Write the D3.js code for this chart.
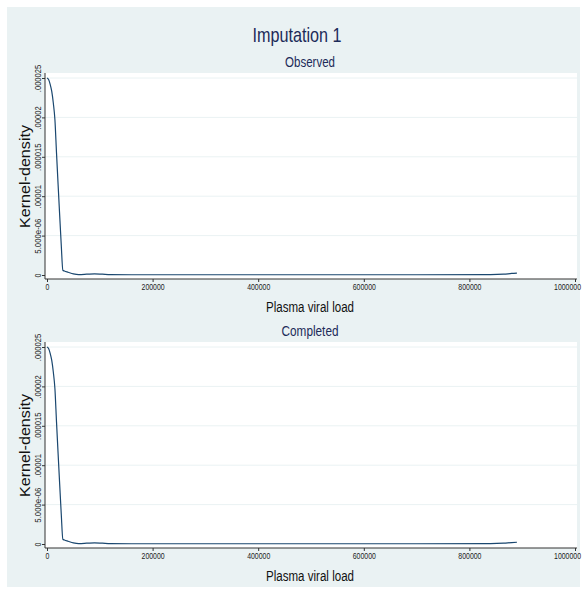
<!DOCTYPE html>
<html>
<head>
<meta charset="utf-8">
<script src="https://cdn.jsdelivr.net/npm/d3@7"></script>
<style>
  body { margin: 0; background: #fff; }
  svg text { font-family: "Liberation Sans", Arial, sans-serif; }
</style>
</head>
<body>
<svg id="chart"></svg>
<script>
// Kernel density of plasma viral load, imputation 1
const densityX = [0, 3000, 6000, 9000, 12000, 15000, 18000, 21000, 24000, 27000, 30000, 33000,
  40000, 50000, 60000, 75000, 90000, 105000, 120000, 160000, 300000, 500000, 700000,
  840000, 865000, 880000, 890000];
const observedY = [25, 24.8, 24.2, 23.3, 21.8, 19.7, 15.5, 11.5, 7.6, 3.8, 0.6, 0.5,
  0.35, 0.15, 0.06, 0.1, 0.15, 0.1, 0.05, 0.03, 0.03, 0.03, 0.03,
  0.04, 0.1, 0.2, 0.25].map(v => v * 1e-6);
const completedY = [25, 24.8, 24.2, 23.3, 21.8, 19.7, 15.5, 11.5, 7.6, 3.8, 0.6, 0.5,
  0.35, 0.15, 0.06, 0.1, 0.15, 0.1, 0.05, 0.03, 0.03, 0.03, 0.03,
  0.04, 0.1, 0.18, 0.22].map(v => v * 1e-6);

const xTicks = [0, 200000, 400000, 600000, 800000, 1000000];
const yTicks = [0, 0.000005, 0.00001, 0.000015, 0.00002, 0.000025];
const yTickLabels = ['0', '5.000e-06', '.00001', '.000015', '.00002', '.000025'];

const panels = [
  { title: 'Observed', y: observedY, offset: 0 },
  { title: 'Completed', y: completedY, offset: 269 }
];

const width = 587, height = 594;
const svg = d3.select('#chart').attr('width', width).attr('height', height);

// outer graph region
svg.append('rect')
    .attr('x', 7).attr('y', 7)
    .attr('width', 573).attr('height', 580)
    .attr('fill', '#eaf2f3');

svg.append('text')
    .attr('x', 297).attr('y', 42)
    .attr('text-anchor', 'middle')
    .attr('fill', '#1c2b59')
    .attr('textLength', 89)
    .attr('lengthAdjust', 'spacingAndGlyphs')
    .style('font-size', '21px')
    .text('Imputation 1');

const x = d3.scaleLinear().domain([0, 1000000]).range([47, 575]);

panels.forEach(p => {
  const g = svg.append('g').attr('transform', `translate(0,${p.offset})`);
  const y = d3.scaleLinear().domain([0, 0.000025]).range([275, 78]);

  g.append('text')
      .attr('x', 310).attr('y', 67)
      .attr('text-anchor', 'middle')
      .attr('fill', '#1c2b59')
      .attr('textLength', p.title === 'Observed' ? 50 : 57)
      .attr('lengthAdjust', 'spacingAndGlyphs')
      .style('font-size', '14px')
      .text(p.title);

  g.append('rect')
      .attr('x', 45).attr('y', 73)
      .attr('width', 532).attr('height', 206)
      .attr('fill', '#fff');

  // gridlines
  g.selectAll('.grid')
    .data(yTicks.slice(1))
    .join('line')
      .attr('class', 'grid')
      .attr('x1', 45).attr('x2', 577)
      .attr('y1', d => y(d)).attr('y2', d => y(d))
      .attr('stroke', '#eaf2f3')
      .attr('stroke-width', 1);

  // y axis
  const yAxis = g.append('g')
      .attr('transform', 'translate(45,0)')
      .call(d3.axisLeft(y).tickValues(yTicks).tickSize(3).tickFormat((d, i) => yTickLabels[i]));
  yAxis.select('.domain').attr('d', `M0,${y(0.000025) - 5}V279`).attr('stroke', '#333');
  yAxis.selectAll('.tick line').attr('stroke', '#333');
  yAxis.selectAll('.tick text')
      .attr('x', 0).attr('dy', 0)
      .attr('transform', 'translate(-4,0) rotate(-90)')
      .attr('text-anchor', 'middle')
      .attr('fill', '#222')
      .attr('textLength', d => yTickLabels[yTicks.indexOf(d)].length * 3.9)
      .attr('lengthAdjust', 'spacingAndGlyphs')
      .style('font-size', '8.5px');

  // x axis
  const xAxis = g.append('g')
      .attr('transform', 'translate(0,279)')
      .call(d3.axisBottom(x).tickValues(xTicks).tickSize(3).tickFormat(d3.format('d')));
  xAxis.select('.domain').attr('d', 'M45,0H577').attr('stroke', '#333');
  xAxis.selectAll('.tick line').attr('stroke', '#333');
  xAxis.selectAll('.tick text')
      .attr('y', 5)
      .attr('dx', d => d === 1000000 ? -8 : 0)
      .attr('fill', '#222')
      .attr('textLength', d => String(d).length * 3.85)
      .attr('lengthAdjust', 'spacingAndGlyphs')
      .style('font-size', '8.5px');

  g.append('text')
      .attr('transform', `translate(29.5,${(y(0) + y(0.000025)) / 2}) rotate(-90)`)
      .attr('text-anchor', 'middle')
      .attr('fill', '#111')
      .attr('textLength', 103)
      .attr('lengthAdjust', 'spacingAndGlyphs')
      .style('font-size', '15px')
      .text('Kernel-density');

  g.append('text')
      .attr('x', 310).attr('y', 312)
      .attr('text-anchor', 'middle')
      .attr('fill', '#111')
      .attr('textLength', 88)
      .attr('lengthAdjust', 'spacingAndGlyphs')
      .style('font-size', '14px')
      .text('Plasma viral load');

  const line = d3.line()
      .x((d, i) => x(densityX[i]))
      .y(d => y(d))
      .curve(d3.curveMonotoneX);

  g.append('path')
      .datum(p.y)
      .attr('d', line)
      .attr('fill', 'none')
      .attr('stroke', '#1a476f')
      .attr('stroke-width', 1.2);
});
</script>
</body>
</html>
